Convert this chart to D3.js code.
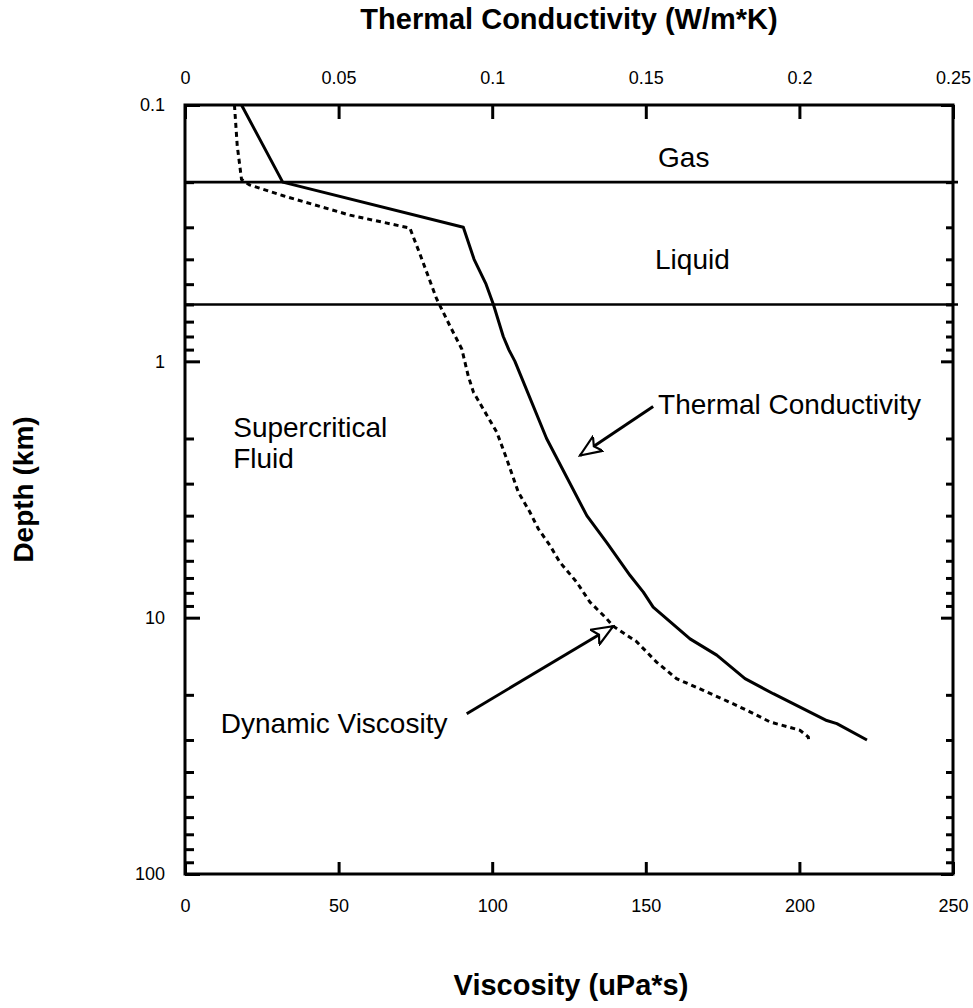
<!DOCTYPE html>
<html>
<head>
<meta charset="utf-8">
<script src="https://cdn.jsdelivr.net/npm/d3@7/dist/d3.min.js"></script>
<style>
html,body{margin:0;padding:0;background:#fff;}
svg{display:block;font-family:"Liberation Sans",Arial,Helvetica,sans-serif;}
</style>
</head>
<body>
<svg id="chart" width="973" height="1008"></svg>
<script>
// ---- data ----
const tcDepth = [0.1, 0.2, 0.3, 0.4, 0.5, 0.6, 0.8, 0.9, 1.0, 2.0, 4.0, 5.1, 6.85, 7.95, 9.1, 12.1, 14.0, 17.3, 19.8, 25.2, 25.9, 30];
const tcValue = [0.0184, 0.0318, 0.0906, 0.0941, 0.098, 0.1004, 0.1036, 0.1054, 0.1074, 0.1177, 0.1308, 0.1373, 0.1449, 0.1492, 0.1524, 0.1644, 0.1731, 0.1823, 0.1915, 0.2089, 0.2122, 0.222];

const viscDepth = [0.1, 0.144, 0.195, 0.205, 0.226, 0.269, 0.302, 0.382, 0.57, 0.73, 0.895, 1.14, 1.32, 1.89, 2.4, 3.24, 3.88, 4.5, 5.23, 6.07, 7.27, 8.69, 10.1, 10.8, 12.4, 14.9, 17.3, 19.2, 21.7, 23.3, 25.5, 27.5, 29.2, 30];
const viscValue = [16.1, 17.0, 18.4, 21.0, 32.0, 53.7, 73.2, 76.5, 81.9, 86.3, 90.1, 92.2, 93.9, 101.5, 104.7, 108.5, 112.3, 115.0, 118.8, 122.0, 127.5, 131.8, 137.3, 139.4, 147.0, 153.5, 160.0, 168.7, 178.5, 183.9, 190.4, 200.2, 202.9, 203.0];

const phaseBoundaries = [0.2, 0.6];

const viscTicks = [0, 50, 100, 150, 200, 250];
const tcTicks = [0, 0.05, 0.1, 0.15, 0.2, 0.25];
const tcTickLabels = ["0", "0.05", "0.1", "0.15", "0.2", "0.25"];
const depthTicks = [0.1, 1, 10, 100];
const depthTickLabels = ["0.1", "1", "10", "100"];

// annotations in data units (viscosity, depth)
const labels = [
  {text: "Gas", v: 154, d: 0.175},
  {text: "Liquid", v: 153, d: 0.437},
  {text: "Supercritical", v: 15.7, d: 1.98},
  {text: "Fluid", v: 15.7, d: 2.61},
  {text: "Thermal Conductivity", v: 154, d: 1.6},
  {text: "Dynamic Viscosity", v: 11.65, d: 28.3}
];
const arrows = [
  {v0: 152.4, d0: 1.50, v1: 128.6, d1: 2.33},
  {v0: 91.7, d0: 23.7, v1: 139.4, d1: 10.8}
];

// ---- layout ----
const W = 973, H = 1008;
const m = {left: 185, top: 105, right: 20, bottom: 134};
const pw = W - m.left - m.right, ph = H - m.top - m.bottom;

const svg = d3.select("#chart");
const g = svg.append("g").attr("transform", `translate(${m.left},${m.top})`);

const x = d3.scaleLinear().domain([0, 250]).range([0, pw]);
const xTop = d3.scaleLinear().domain([0, 0.25]).range([0, pw]);
const y = d3.scaleLog().domain([0.1, 100]).range([0, ph]);

// minor log ticks
const minor = [];
[0.1, 1, 10].forEach(b => { for (let k = 2; k <= 9; k++) minor.push(b * k); });

// phase boundary lines
g.selectAll("line.phase").data(phaseBoundaries).enter().append("line")
  .attr("x1", 0).attr("x2", pw + 5)
  .attr("y1", d => y(d)).attr("y2", d => y(d))
  .attr("stroke", "#000").attr("stroke-width", 2.6);

// curves
const tcData = tcDepth.map((d, i) => ({d, v: tcValue[i]}));
const viscData = viscDepth.map((d, i) => ({d, v: viscValue[i]}));

g.append("path").datum(tcData)
  .attr("fill", "none").attr("stroke", "#000").attr("stroke-width", 3)
  .attr("stroke-linejoin", "round")
  .attr("d", d3.line().x(p => xTop(p.v)).y(p => y(p.d)));

g.append("path").datum(viscData)
  .attr("fill", "none").attr("stroke", "#000").attr("stroke-width", 3)
  .attr("stroke-dasharray", "5,4")
  .attr("d", d3.line().x(p => x(p.v)).y(p => y(p.d)));

// axes (ticks inward)
const fs = 18;

// bottom
g.append("g").attr("transform", `translate(0,${ph})`)
  .call(d3.axisBottom(x).tickValues(viscTicks).tickSizeInner(-12).tickSizeOuter(0).tickPadding(25).tickFormat(d3.format("d")))
  .call(s => s.select(".domain").remove());
// top
g.append("g")
  .call(d3.axisTop(xTop).tickValues(tcTicks).tickSizeInner(-14).tickSizeOuter(0).tickPadding(21).tickFormat((d, i) => tcTickLabels[i]))
  .call(s => s.select(".domain").remove());
// left major
g.append("g")
  .call(d3.axisLeft(y).tickValues(depthTicks).tickSizeInner(-15).tickSizeOuter(0).tickPadding(20).tickFormat((d, i) => depthTickLabels[i]))
  .call(s => s.select(".domain").remove());
// left minor
g.append("g")
  .call(d3.axisLeft(y).tickValues(minor).tickSizeInner(-9).tickSizeOuter(0).tickFormat(""))
  .call(s => s.select(".domain").remove());
// right major + minor
g.append("g").attr("transform", `translate(${pw},0)`)
  .call(d3.axisRight(y).tickValues(depthTicks).tickSizeInner(-12).tickSizeOuter(0).tickFormat(""))
  .call(s => s.select(".domain").remove());
g.append("g").attr("transform", `translate(${pw},0)`)
  .call(d3.axisRight(y).tickValues(minor).tickSizeInner(-7).tickSizeOuter(0).tickFormat(""))
  .call(s => s.select(".domain").remove());

g.selectAll(".tick line").attr("stroke", "#000").attr("stroke-width", 3);
g.selectAll(".tick text").attr("font-size", fs).attr("fill", "#000")
  .attr("font-family", "'Liberation Sans',Arial,sans-serif");

// frame
g.append("rect").attr("x", 0).attr("y", 0).attr("width", pw).attr("height", ph)
  .attr("fill", "none").attr("stroke", "#000").attr("stroke-width", 3);

// arrow marker (open head)
const defs = svg.append("defs");
defs.append("marker").attr("id", "openArrow")
  .attr("viewBox", "0 -5 12 10").attr("refX", 11).attr("refY", 0)
  .attr("markerWidth", 8).attr("markerHeight", 6.5).attr("markerUnits", "strokeWidth")
  .attr("orient", "auto")
  .append("path").attr("d", "M0,-4.5L11,0L0,4.5L2.5,0Z")
  .attr("fill", "#fff").attr("stroke", "#000").attr("stroke-width", 1.1).attr("stroke-linejoin", "miter");

g.selectAll("line.arrow").data(arrows).enter().append("line")
  .attr("x1", a => x(a.v0)).attr("y1", a => y(a.d0))
  .attr("x2", a => x(a.v1)).attr("y2", a => y(a.d1))
  .attr("stroke", "#000").attr("stroke-width", 3)
  .attr("marker-end", "url(#openArrow)");

// annotation text
g.selectAll("text.lab").data(labels).enter().append("text")
  .attr("x", l => x(l.v)).attr("y", l => y(l.d))
  .attr("font-size", 28).attr("fill", "#000")
  .text(l => l.text);

// axis titles
svg.append("text").attr("x", 569).attr("y", 29)
  .attr("text-anchor", "middle").attr("font-size", 29).attr("font-weight", "bold")
  .text("Thermal Conductivity (W/m*K)");
svg.append("text").attr("x", 571).attr("y", 995)
  .attr("text-anchor", "middle").attr("font-size", 29).attr("font-weight", "bold")
  .text("Viscosity (uPa*s)");
svg.append("text").attr("transform", `translate(33,${m.top + ph / 2}) rotate(-90)`)
  .attr("text-anchor", "middle").attr("font-size", 28).attr("font-weight", "bold")
  .text("Depth (km)");
</script>
</body>
</html>
